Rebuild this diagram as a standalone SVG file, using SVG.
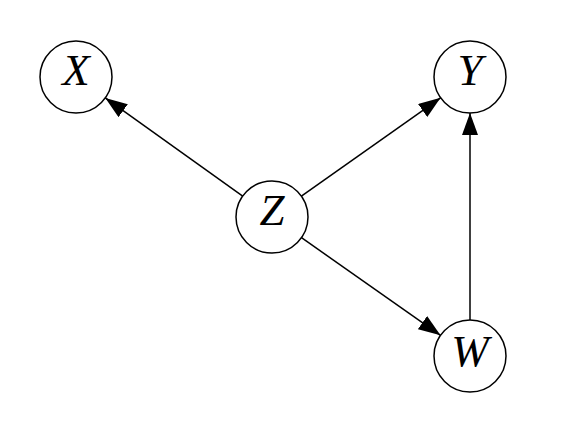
<svg xmlns="http://www.w3.org/2000/svg" width="570" height="434" viewBox="0 0 570 434">
<defs>
<style>
.node circle{fill:#fff;stroke:#000;stroke-width:1.5}
.node text{font-family:"Liberation Serif","DejaVu Serif",serif;font-style:italic;font-size:45px;text-anchor:middle;fill:#000}
.edges line{stroke:#000;stroke-width:1.5;marker-end:url(#ah)}
</style>
<marker id="ah" markerWidth="22" markerHeight="16" refX="22" refY="8" orient="auto" markerUnits="userSpaceOnUse">
<path d="M0,0 L22,8 L0,16 Z" fill="#000"/>
</marker>
</defs>
<rect width="570" height="434" fill="#fff"/>
<g class="edges">
<line x1="242.7" y1="196.1" x2="105.3" y2="97.9"/>
<line x1="301.4" y1="196.2" x2="440.6" y2="97.8"/>
<line x1="301.5" y1="237.7" x2="440.5" y2="335.3"/>
<line x1="470" y1="320" x2="470" y2="113"/>
</g>
<g id="X" class="node"><circle cx="76" cy="77" r="36"/><text x="76" y="85">X</text></g>
<g id="Y" class="node"><circle cx="470" cy="77" r="36"/><text x="470" y="85">Y</text></g>
<g id="Z" class="node"><circle cx="272" cy="217" r="36"/><text x="272" y="225">Z</text></g>
<g id="W" class="node"><circle cx="470" cy="356" r="36"/><text x="470" y="366">W</text></g>
</svg>
